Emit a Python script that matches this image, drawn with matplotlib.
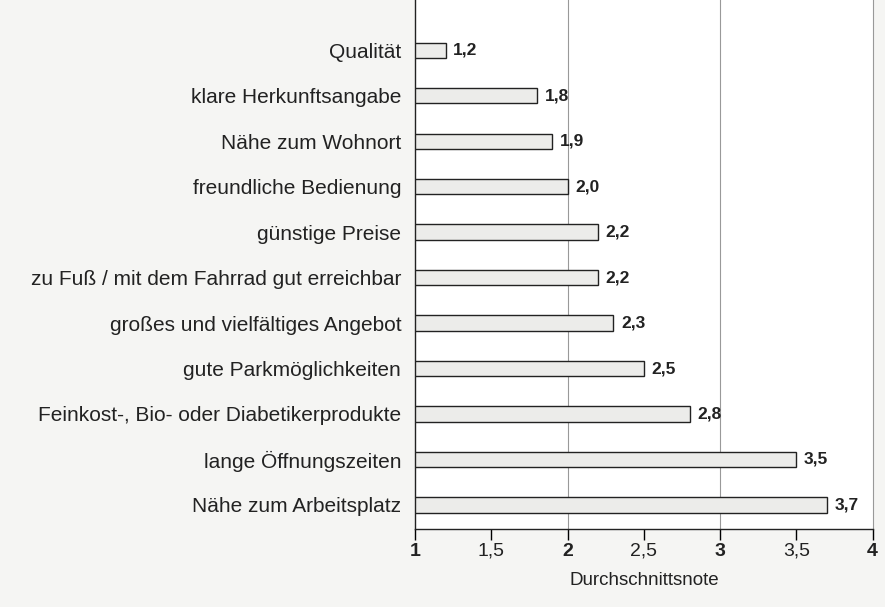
import matplotlib.pyplot as plt
from matplotlib.ticker import FixedLocator

categories = [
    "Qualität",
    "klare Herkunftsangabe",
    "Nähe zum Wohnort",
    "freundliche Bedienung",
    "günstige Preise",
    "zu Fuß / mit dem Fahrrad gut erreichbar",
    "großes und vielfältiges Angebot",
    "gute Parkmöglichkeiten",
    "Feinkost-, Bio- oder Diabetikerprodukte",
    "lange Öffnungszeiten",
    "Nähe zum Arbeitsplatz",
]
values = [1.2, 1.8, 1.9, 2.0, 2.2, 2.2, 2.3, 2.5, 2.8, 3.5, 3.7]
xticks = [1, 1.5, 2, 2.5, 3, 3.5, 4]
xtick_labels = ["1", "1,5", "2", "2,5", "3", "3,5", "4"]

plt.rcParams["font.family"] = ["Liberation Sans", "DejaVu Sans"]

fig = plt.figure(figsize=(8.85, 6.07), dpi=100)
fig.patch.set_facecolor("#f5f5f3")
ax = fig.add_axes([0.469, 0.1285, 0.517, 0.871])
ax.set_facecolor("white")

pos = list(range(len(categories)))
ax.barh(pos, [v - 1 for v in values], left=1, height=0.34,
        color="#ececea", edgecolor="#222222", linewidth=1.0, zorder=3)
for p, v in zip(pos, values):
    ax.text(v + 0.05, p, f"{v:.1f}".replace(".", ","), va="center", ha="left",
            fontsize=12.5, fontweight="bold", color="#222222")

ax.set_xlim(1, 4)
ax.set_ylim(10.53, -1.1)
ax.set_yticks(pos)
ax.set_yticklabels(categories, fontsize=15, color="#222222")
ax.tick_params(axis="y", length=0, pad=10)

ax.xaxis.set_major_locator(FixedLocator(xticks))
ax.set_xticklabels(xtick_labels, fontsize=14, color="#222222")
for lbl, t in zip(ax.get_xticklabels(), xticks):
    if float(t).is_integer():
        lbl.set_fontweight("bold")
ax.tick_params(axis="x", direction="out", length=8, width=1, pad=2)
ax.set_xlabel("Durchschnittsnote", fontsize=13.5, color="#222222", labelpad=9)

for g in [2, 3]:
    ax.axvline(g, color="#999999", linewidth=0.8, zorder=1)

ax.spines["top"].set_visible(False)
ax.spines["right"].set_color("#999999")
ax.spines["right"].set_linewidth(0.8)
ax.spines["left"].set_color("#222222")
ax.spines["bottom"].set_color("#222222")
ax.spines["left"].set_linewidth(1.0)
ax.spines["bottom"].set_linewidth(1.0)

fig.savefig("out.png", dpi=100, facecolor=fig.get_facecolor())
